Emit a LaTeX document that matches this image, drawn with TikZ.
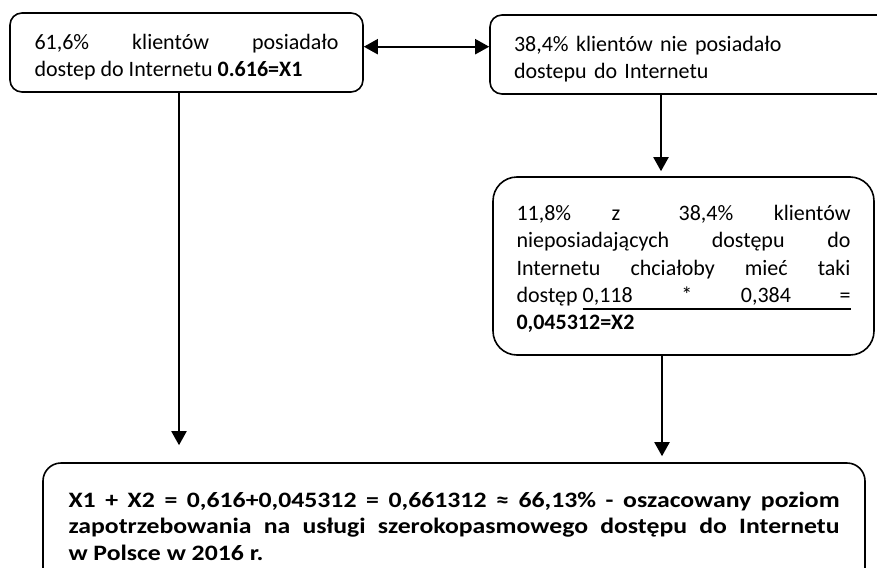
\documentclass[tikz,border=0pt]{standalone}
\usepackage{fontspec}
\setmainfont{Carlito}
\newfontfamily\szeroki[FakeStretch=1.17]{Carlito}
\usetikzlibrary{arrows.meta}

% podkreslenie, ktore rozciaga sie razem z odstepami
\newcommand{\pslowo}[1]{\setbox0\hbox{#1}\rlap{\vrule height -2.9pt depth 3.6pt width \wd0}\box0}
\newcommand{\pspacja}{\leaders\hrule height -2.9pt depth 3.6pt\hskip\fontdimen2\font plus \fontdimen3\font\relax}

\begin{document}
\begin{tikzpicture}[
    x=0.5pt, y=-0.5pt,
    >={Triangle[length=7pt, width=7.5pt]},
    ramka/.style={
        rectangle,
        rounded corners=6pt,
        draw,
        line width=0.8pt,
        fill=white,
        inner sep=0pt,
        font=\fontsize{11}{13.6}\selectfont
    },
    strzalka/.style={line width=1pt}
]
    \useasboundingbox (0,0) rectangle (877,567);
    \clip (0,0) rectangle (877,567);

    % Klienci z dostepem i bez dostepu
    \node[ramka, text width=152pt, align=justify, minimum width=176.5pt,
          minimum height=39.5pt, text height=12.8pt, text depth=16pt]
         (dostep) at (186.5,52.5)
         {61,6\% klientów posiadało\linebreak dostep do Internetu \textbf{0.616=X1}};
    \node[ramka, text width=181pt, align=left, minimum width=205pt,
          minimum height=39.5pt, text height=13.2pt, text depth=16pt]
         (brak) at (695,54.5)
         {38,4\% klientów nie posiadało\\ dostepu do Internetu};

    % Chetni na dostep
    \node[ramka, rounded corners=12pt, text width=167pt, align=justify,
          minimum width=190.5pt, minimum height=89pt,
          text height=11.6pt, text depth=56.9pt]
         (chetni) at (683.5,266)
         {11,8\% z\hspace{9pt} 38,4\% klientów\linebreak
          nieposiadających dostępu do\linebreak
          Internetu chciałoby mieć taki\linebreak
          dostęp\hspace{2.5pt}\pslowo{0,118}\pspacja\pslowo{*}\pspacja\pslowo{0,384}\pspacja\pslowo{=}\linebreak
          \textbf{0,045312=X2}};

    % Wynik
    \node[ramka, rounded corners=9pt, text width=385.5pt, align=justify,
          minimum width=411pt, minimum height=63.5pt,
          text height=9.6pt, text depth=29.1pt,
          font=\szeroki\fontsize{11}{13.3}\selectfont\bfseries]
         (popyt) at (454,526.5)
         {X1 + X2 = 0,616+0,045312 = 0,661312 ≈ 66,13\% - oszacowany poziom\linebreak
          zapotrzebowania na usługi szerokopasmowego dostępu do Internetu\linebreak
          w Polsce w 2016 r.};

    % Polaczenia
    \draw[strzalka, <->] ([yshift=2.9pt]dostep.east) -- ([yshift=2.9pt]dostep.east -| brak.west);
    \draw[strzalka, ->, shorten >=8.5pt] ([xshift=-3.75pt]dostep.south) -- ([xshift=-3.75pt]dostep.south |- popyt.north);
    \draw[strzalka, ->, shorten >=2.5pt] ([xshift=-17pt]brak.south) -- ([xshift=-17pt]brak.south |- chetni.north);
    \draw[strzalka, ->, shorten >=3pt] ([xshift=-10.75pt]chetni.south) -- ([xshift=-10.75pt]chetni.south |- popyt.north);
\end{tikzpicture}
\end{document}
